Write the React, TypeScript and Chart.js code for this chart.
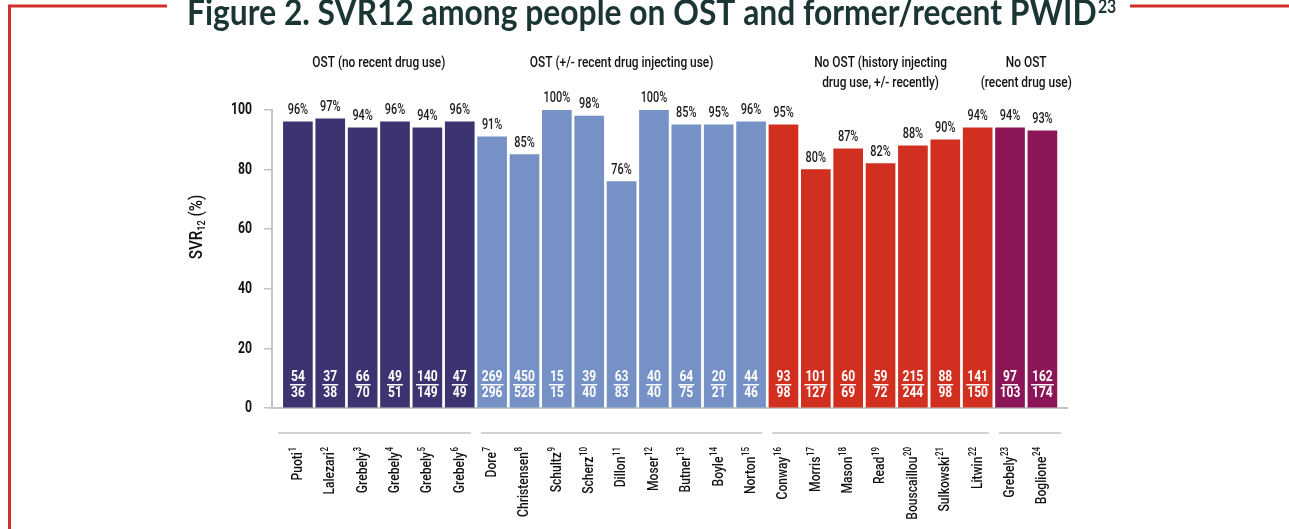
import React, { useEffect, useRef } from 'react';
import { Chart, registerables } from 'chart.js';

Chart.register(...registerables);

const studies = ['Puoti', 'Lalezari', 'Grebely', 'Grebely', 'Grebely', 'Grebely', 'Dore', 'Christensen', 'Schultz', 'Scherz', 'Dillon', 'Moser', 'Butner', 'Boyle', 'Norton', 'Conway', 'Morris', 'Mason', 'Read', 'Bouscaillou', 'Sulkowski', 'Litwin', 'Grebely', 'Boglione'];
const refs = ['1', '2', '3', '4', '5', '6', '7', '8', '9', '10', '11', '12', '13', '14', '15', '16', '17', '18', '19', '20', '21', '22', '23', '24'];
const barValues = [96, 97, 94, 96, 94, 96, 91, 85, 100, 98, 76, 100, 95, 95, 96, 95, 80, 87, 82, 88, 90, 94, 94, 93];
const pctLabels = ['96%', '97%', '94%', '96%', '94%', '96%', '91%', '85%', '100%', '98%', '76%', '100%', '85%', '95%', '96%', '95%', '80%', '87%', '82%', '88%', '90%', '94%', '94%', '93%'];
const achieved = [54, 37, 66, 49, 140, 47, 269, 450, 15, 39, 63, 40, 64, 20, 44, 93, 101, 60, 59, 215, 88, 141, 97, 162];
const treated = [36, 38, 70, 51, 149, 49, 296, 528, 15, 40, 83, 40, 75, 21, 46, 98, 127, 69, 72, 244, 98, 150, 103, 174];
const groupTitles = [['OST (no recent drug use)'], ['OST (+/- recent drug injecting use)'], ['No OST (history injecting', 'drug use, +/- recently)'], ['No OST', '(recent drug use)']];
const groupStart = [0, 6, 15, 22];
const groupEnd = [5, 14, 21, 23];
const groupColors = ['#3c3470', '#7591c6', '#d12f1f', '#8b1556'];
const yTicks = [0, 20, 40, 60, 80, 100];
const titleText = 'Figure 2. SVR12 among people on OST and former/recent PWID';
const titleRef = '23';

const FAM = "'Roboto', 'Noto Sans', sans-serif";

function groupOf(i: number) {
  for (let g = 0; g < groupStart.length; g++) if (i >= groupStart[g] && i <= groupEnd[g]) return g;
  return 0;
}

type TOpt = { size: number; weight?: string; align?: CanvasTextAlign; baseline?: CanvasTextBaseline; sx?: number; color?: string };

function cText(ctx: CanvasRenderingContext2D, text: string, x: number, y: number, o: TOpt) {
  const sx = o.sx ?? 0.8;
  ctx.save();
  ctx.font = `${o.weight ?? '500'} ${o.size}px ${FAM}`;
  ctx.textAlign = o.align ?? 'left';
  ctx.textBaseline = o.baseline ?? 'alphabetic';
  if (o.color) ctx.fillStyle = o.color;
  ctx.translate(x, y);
  ctx.scale(sx, 1);
  ctx.fillText(text, 0, 0);
  ctx.restore();
}

function cWidth(ctx: CanvasRenderingContext2D, text: string, o: TOpt) {
  ctx.save();
  ctx.font = `${o.weight ?? '500'} ${o.size}px ${FAM}`;
  const w = ctx.measureText(text).width * (o.sx ?? 0.8);
  ctx.restore();
  return w;
}

const overlay = {
  id: 'overlay',
  afterDraw(chart: any) {
    const ctx = chart.ctx as CanvasRenderingContext2D;
    const xs = chart.scales.x;
    const ys = chart.scales.y;
    const area = chart.chartArea;
    ctx.save();

    // frame
    ctx.strokeStyle = '#d12f2a';
    ctx.lineWidth = 3;
    ctx.beginPath();
    ctx.moveTo(9.5, 529);
    ctx.lineTo(9.5, 6);
    ctx.lineTo(167, 6);
    ctx.moveTo(1130, 6);
    ctx.lineTo(1289, 6);
    ctx.stroke();

    // title (horizontally compressed to mimic a narrower face)
    const target = 910;
    const tsx = 0.88;
    ctx.font = "bold 30px 'Lato', 'Open Sans', sans-serif";
    const w30 = ctx.measureText(titleText).width;
    const fs = (30 * target) / (w30 * tsx);
    ctx.save();
    ctx.fillStyle = '#1b3434';
    ctx.textAlign = 'left';
    ctx.textBaseline = 'alphabetic';
    ctx.translate(187, 25);
    ctx.scale(tsx, 1);
    ctx.font = `bold ${fs}px 'Lato', 'Open Sans', sans-serif`;
    ctx.fillText(titleText, 0, 0);
    ctx.font = `bold ${fs * 0.5}px 'Lato', 'Open Sans', sans-serif`;
    ctx.fillText(titleRef, target / tsx + 1, -12);
    ctx.restore();

    // y tick labels
    yTicks.forEach((t) => {
      cText(ctx, String(t), 252, ys.getPixelForValue(t), { size: 17, weight: 'bold', align: 'right', baseline: 'middle', sx: 0.72, color: '#111' });
    });

    // y title
    ctx.save();
    ctx.translate(197, 227);
    ctx.rotate(-Math.PI / 2);
    const o1: TOpt = { size: 19, sx: 0.8, baseline: 'middle', color: '#111' };
    const o2: TOpt = { size: 11.5, sx: 0.8, baseline: 'middle', color: '#111' };
    const a = cWidth(ctx, 'SVR', o1);
    const b = cWidth(ctx, '12', o2);
    const c = cWidth(ctx, ' (%)', o1);
    let px = -(a + b + c) / 2;
    cText(ctx, 'SVR', px, 0, o1);
    px += a;
    cText(ctx, '12', px, 5, o2);
    px += b;
    cText(ctx, ' (%)', px, 0, o1);
    ctx.restore();

    // group headers
    groupTitles.forEach((lines, g) => {
      const cx = (xs.getPixelForValue(groupStart[g]) + xs.getPixelForValue(groupEnd[g])) / 2;
      lines.forEach((ln, k) => cText(ctx, ln, cx, 63 + k * 20, { size: 14.5, align: 'center', baseline: 'middle', sx: 0.82, color: '#111' }));
    });

    // group lines under axis
    ctx.strokeStyle = '#c4c4c4';
    ctx.lineWidth = 1.5;
    groupStart.forEach((s, g) => {
      const e = groupEnd[g];
      const x0 = s === 0 ? area.left + 6 : xs.getPixelForValue(s - 0.5) + 5;
      const x1 = e === barValues.length - 1 ? area.right - 6 : xs.getPixelForValue(e + 0.5) - 5;
      ctx.beginPath();
      ctx.moveTo(x0, 433);
      ctx.lineTo(x1, 433);
      ctx.stroke();
    });

    const base = ys.getPixelForValue(0);
    barValues.forEach((v, i) => {
      const cx = xs.getPixelForValue(i);
      const top = ys.getPixelForValue(v);
      cText(ctx, pctLabels[i], cx, top - 8, { size: 14, align: 'center', sx: 0.78, color: '#1a1a1a' });

      const co: TOpt = { size: 14, weight: 'bold', align: 'center', baseline: 'middle', sx: 0.86, color: '#ffffff' };
      const num = String(achieved[i]);
      const nw = cWidth(ctx, num, co);
      cText(ctx, num, cx, base - 31, co);
      ctx.fillStyle = '#ffffff';
      ctx.fillRect(cx - nw / 2 - 1, base - 24, nw + 2, 1.5);
      cText(ctx, String(treated[i]), cx, base - 15, co);

      ctx.save();
      ctx.translate(cx, 447);
      ctx.rotate(-Math.PI / 2);
      const so: TOpt = { size: 10, align: 'right', baseline: 'middle', sx: 0.8, color: '#111' };
      const sw = cWidth(ctx, refs[i], so);
      cText(ctx, refs[i], 0, -4.5, so);
      cText(ctx, studies[i], -sw - 0.5, 0, { size: 15.5, align: 'right', baseline: 'middle', sx: 0.78, color: '#111' });
      ctx.restore();
    });

    ctx.restore();
  },
};

export default function App() {
  const ref = useRef<HTMLCanvasElement>(null);
  useEffect(() => {
    document.body.style.margin = '0';
    document.body.style.overflow = 'hidden';
    const canvas = ref.current;
    if (!canvas) return;
    const chart = new Chart(canvas, {
      type: 'bar',
      data: {
        datasets: [
          {
            data: barValues.map((v, i) => ({ x: i, y: v })),
            backgroundColor: barValues.map((_, i) => groupColors[groupOf(i)]),
            barThickness: 29,
            borderWidth: 0,
          },
        ],
      },
      options: {
        animation: false,
        responsive: true,
        maintainAspectRatio: false,
        layout: { padding: { top: 110, right: 222, left: 0, bottom: 0 } },
        plugins: { legend: { display: false }, tooltip: { enabled: false }, title: { display: false } },
        scales: {
          x: {
            type: 'linear',
            offset: false,
            min: -0.8,
            max: 23.76,
            grid: { display: false, offset: false },
            ticks: { display: false },
            border: { display: true, color: '#c4c4c4', width: 2 },
            afterFit: (s: any) => {
              s.height = 121;
            },
          },
          y: {
            min: 0,
            max: 100,
            afterBuildTicks: (s: any) => {
              s.ticks = yTicks.map((v) => ({ value: v }));
            },
            ticks: { display: false },
            grid: { display: true, drawOnChartArea: false, drawTicks: true, tickLength: 8, color: '#c4c4c4', lineWidth: 1.5 },
            border: { display: true, color: '#c4c4c4', width: 2 },
            afterFit: (s: any) => {
              s.width = 272;
            },
          },
        },
      },
      plugins: [overlay],
    });
    return () => chart.destroy();
  }, []);
  return (
    <div style={{ width: 1289, height: 529, position: 'relative' }}>
      <canvas ref={ref} />
    </div>
  );
}
